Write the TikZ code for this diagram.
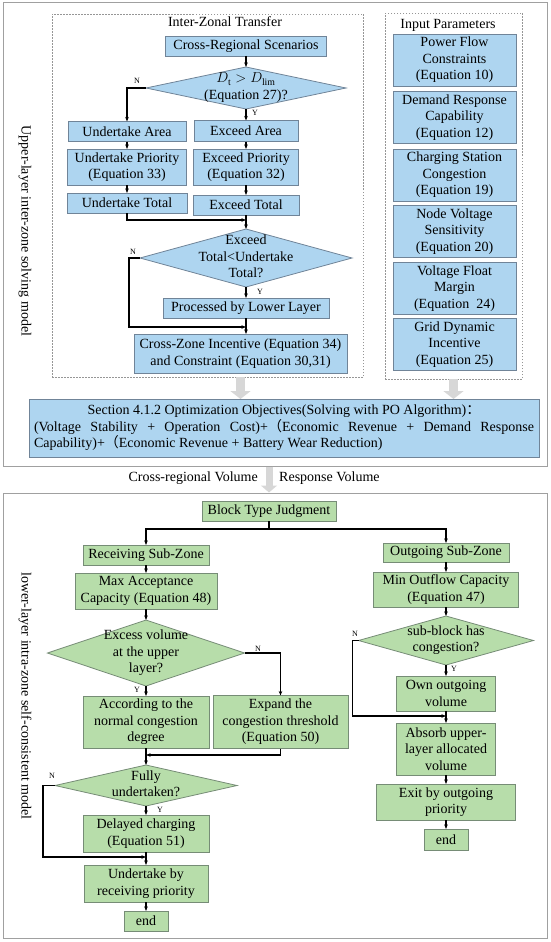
\documentclass[tikz,border=0pt]{standalone}
\usepackage{fontspec}
\setmainfont{Liberation Serif}
\newfontfamily\cjk{Noto Sans CJK SC}
\usetikzlibrary{shapes.geometric,arrows.meta}
\definecolor{bfill}{RGB}{174,213,240}
\definecolor{bdraw}{RGB}{112,132,152}
\definecolor{gfill}{RGB}{183,221,170}
\definecolor{gdraw}{RGB}{118,140,118}
\definecolor{frame}{RGB}{160,160,160}
\definecolor{dashc}{RGB}{150,150,150}
\definecolor{bigc}{RGB}{215,215,215}
\newcommand{\dtext}[1]{\smash{\makebox[0pt]{\raisebox{-0.25em}{\begin{tabular}[c]{@{}c@{}}#1\end{tabular}}}}}
\begin{document}
\begin{tikzpicture}[x=1pt,y=-1pt,
  font=\fontsize{14}{16.5}\selectfont,
  sz/.style 2 args={minimum width=#1pt, minimum height=#2pt},
  bx/.style={draw=bdraw, fill=bfill, line width=0.8pt, inner sep=1pt, outer sep=0pt, align=center},
  gx/.style={draw=gdraw, fill=gfill, line width=0.8pt, inner sep=1pt, outer sep=0pt, align=center},
  bdia/.style={diamond, draw=bdraw, fill=bfill, line width=0.8pt, inner sep=0pt, outer sep=0pt},
  gdia/.style={diamond, draw=gdraw, fill=gfill, line width=0.8pt, inner sep=0pt, outer sep=0pt},
  framebox/.style={draw=frame, line width=1pt, inner sep=0pt},
  dbox/.style={draw=dashc, line width=0.8pt, dash pattern=on 1.5pt off 1.5pt, inner sep=0pt},
  arr/.style={line width=1.2pt, -{Stealth[length=4.5pt,width=3.5pt]}},
  ln/.style={line width=1.2pt},
  yn/.style={font=\fontsize{8}{9}\selectfont, inner sep=0pt},
  txt/.style={inner sep=0pt},
  bigarrow/.style={line width=9pt, bigc, -{Triangle[width=20pt,length=8pt]}},
  smallbig/.style={line width=7pt, bigc, -{Triangle[width=16pt,length=7pt]}}
]
\useasboundingbox (0,0) rectangle (550,942);

% ---------------- upper part ----------------
\node[framebox, sz={544}{463}] (ubox) at (275,234.5) {};
\node[dbox, sz={311}{363}] (izt) at (207.5,195.5) {};
\node[dbox, sz={137}{366}] (inp) at (453.5,196) {};
\node[txt] (iztt) at (225,22) {Inter-Zonal Transfer};
\node[txt] (inpt) at (448,25) {Input Parameters};
\node[txt, rotate=-90] (ulab) at (25,231) {Upper-layer inter-zone solving model};

\node[bx, sz={161}{20}] (crs) at (246,46) {Cross-Regional Scenarios};
\node[bdia, sz={200}{42}] (d1) at (246,88) {\dtext{$D_{\mathrm{t}} > D_{\mathrm{lim}}$\\(Equation 27)?}};
\node[bx, sz={118}{20}] (ua) at (127,131.5) {Undertake Area};
\node[bx, sz={104}{21}] (ea) at (246,131) {Exceed Area};
\node[bx, sz={119}{36}] (up) at (127,167) {Undertake Priority\\(Equation 33)};
\node[bx, sz={105}{36}] (ep) at (246,167) {Exceed Priority\\(Equation 32)};
\node[bx, sz={120}{20}] (ut) at (127,203) {Undertake Total};
\node[bx, sz={106}{20}] (et) at (246,205) {Exceed Total};
\coordinate (j1) at (246,220);
\node[bdia, sz={212}{58}] (d2) at (246,258) {\dtext{Exceed\\Total<Undertake\\Total?}};
\node[bx, sz={166}{20}] (plp) at (246,308) {Processed by Lower Layer};
\coordinate (j2) at (246,327);
\node[bx, sz={213}{39}] (czi) at (240.5,353.5) {Cross-Zone Incentive (Equation 34)\\and Constraint (Equation 30,31)};

\node[bx, sz={123}{52}] (pf) at (454.5,60) {Power Flow\\Constraints\\(Equation 10)};
\node[bx, sz={123}{52}] (dr) at (454.5,117.5) {Demand Response\\Capability\\(Equation 12)};
\node[bx, sz={123}{52}] (cs) at (454.5,175) {Charging Station\\Congestion\\(Equation 19)};
\node[bx, sz={123}{52}] (nv) at (454.5,231.5) {Node Voltage\\Sensitivity\\(Equation 20)};
\node[bx, sz={123}{52}] (vf) at (454.5,288.5) {Voltage Float\\Margin\\(Equation\ \ 24)};
\node[bx, sz={123}{52}] (gd) at (454.5,344.5) {Grid Dynamic\\Incentive\\(Equation 25)};

\node[bx, sz={510}{58}, text width=500pt, align=justify, inner sep=4pt] (obj) at (284,428)
 {{\centering Section 4.1.2 Optimization Objectives(Solving with PO Algorithm){\cjk ：}\par}%
  (Voltage Stability + Operation Cost)+{\cjk （}Economic Revenue + Demand Response\linebreak
  Capability)+{\cjk （}Economic Revenue + Battery Wear Reduction)};

% upper connectors
\draw[arr] (crs.south) -- (d1.north);
\draw[arr] (d1.west) -| (ua.north);
\node[yn] (n1) at (137,81) {N};
\draw[arr] (d1.south) -- (ea.north);
\node[yn] (y1) at (255,113) {Y};
\draw[arr] (ea.south) -- (ep.north);
\draw[arr] (ep.south) -- (et.north);
\draw[arr] (ua.south) -- (up.north);
\draw[arr] (up.south) -- (ut.north);
\draw[arr] (ut.south) |- (j1);
\draw[arr] (et.south) -- (d2.north);
\draw[arr] (d2.west) -- ++(-11,0) |- (j2);
\node[yn] (n2) at (133,252) {N};
\draw[arr] (d2.south) -- (plp.north);
\node[yn] (y2) at (260,292) {Y};
\draw[arr] (plp.south) -- (czi.north -| plp.south);

\draw[bigarrow] (izt.south -| czi.center) -- (obj.north -| czi.center);
\draw[bigarrow] (inp.south) -- (obj.north -| inp.south);

% ---------------- middle ----------------
\node[txt, anchor=east] (cv) at (258,478) {Cross-regional Volume};
\node[txt, anchor=west] (rv) at (279,478) {Response Volume};

% ---------------- lower part ----------------
\node[framebox, sz={544}{445}] (lbox) at (275,715.5) {};
\node[txt, rotate=-90] (llab) at (25,696) {lower-layer intra-zone self-consistent model};

\node[gx, sz={134}{20}] (btj) at (269,511) {Block Type Judgment};
\draw[smallbig] (ubox.south -| btj.north) -- (lbox.north -| btj.north);
\coordinate (j3) at (269,529);
\node[gx, sz={126}{20}] (rsz) at (146,555) {Receiving Sub-Zone};
\node[gx, sz={126}{19}] (osz) at (446,552.5) {Outgoing Sub-Zone};
\node[gx, sz={142}{36}] (mac) at (146,591) {Max Acceptance\\Capacity (Equation 48)};
\node[gdia, sz={197}{66}] (d3) at (146,653) {\dtext{Excess volume\\at the upper\\layer?}};
\node[gx, sz={126}{52}] (acc) at (146,722) {According to the\\normal congestion\\degree};
\node[gx, sz={135}{53}] (exp) at (280.5,722) {Expand the\\congestion threshold\\(Equation 50)};
\coordinate (j4) at (146,755);
\node[gdia, sz={182}{41}] (d4) at (146,785.5) {\dtext{Fully\\undertaken?}};
\node[gx, sz={126}{37}] (del) at (146,833.5) {Delayed charging\\(Equation 51)};
\coordinate (j5) at (146,857);
\node[gx, sz={124}{37}] (utr) at (146,883.5) {Undertake by\\receiving priority};
\node[gx, sz={44}{20}] (end1) at (146,921) {end};

\node[gx, sz={145}{35}] (mof) at (446,589.5) {Min Outflow Capacity\\(Equation 47)};
\node[gdia, sz={175}{49}] (d5) at (446,640.5) {\dtext{sub-block has\\congestion?}};
\node[gx, sz={99}{35}] (oov) at (446,693.5) {Own outgoing\\volume};
\coordinate (j6) at (446,716);
\node[gx, sz={99}{52}] (abs) at (446,749) {Absorb upper-\\layer allocated\\volume};
\node[gx, sz={139}{36}] (exi) at (446,802) {Exit by outgoing\\priority};
\node[gx, sz={44}{21}] (end2) at (446,839.5) {end};

% lower connectors
\draw[ln] (btj.south) -- (j3);
\draw[arr] (j3) -| (rsz.north);
\draw[arr] (j3) -| (osz.north);
\draw[arr] (rsz.south) -- (mac.north);
\draw[arr] (mac.south) -- (d3.north);
\draw[arr] (d3.east) -| (exp.north);
\node[yn] (n3) at (258,649) {N};
\draw[arr] (d3.south) -- (acc.north);
\node[yn] (y3) at (137,690) {Y};
\draw[arr] (exp.south) |- (j4);
\draw[arr] (acc.south) -- (d4.north);
\draw[arr] (d4.west) -- ++(-12,0) |- (j5);
\node[yn] (n4) at (52,776) {N};
\draw[arr] (d4.south) -- (del.north);
\node[yn] (y4) at (160,810) {Y};
\draw[arr] (del.south) -- (utr.north);
\draw[arr] (utr.south) -- (end1.north);

\draw[arr] (osz.south) -- (mof.north);
\draw[arr] (mof.south) -- (d5.north);
\draw[arr] (d5.west) -- ++(-6,0) |- (j6);
\node[yn] (n5) at (355,634) {N};
\draw[arr] (d5.south) -- (oov.north);
\node[yn] (y5) at (454,669) {Y};
\draw[arr] (oov.south) -- (abs.north);
\draw[arr] (abs.south) -- (exi.north);
\draw[arr] (exi.south) -- (end2.north);
\end{tikzpicture}
\end{document}
